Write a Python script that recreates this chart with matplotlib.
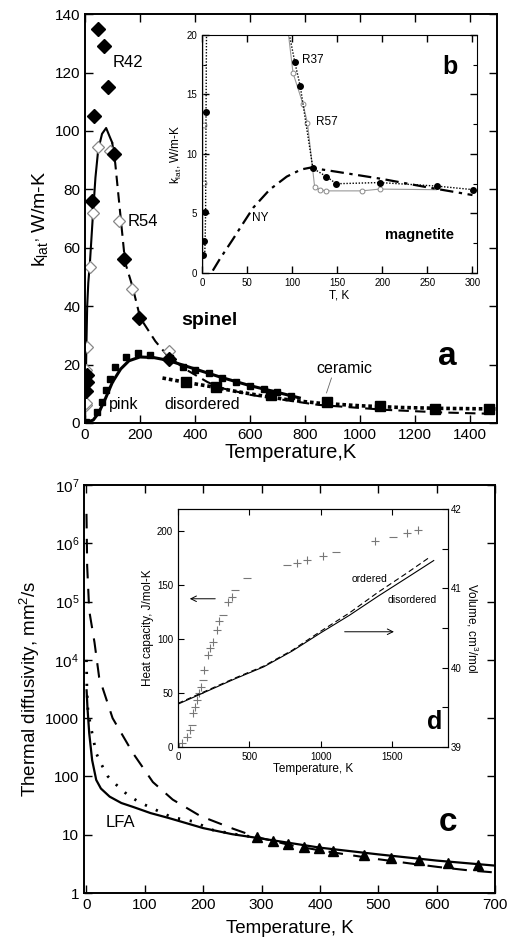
import matplotlib
matplotlib.use("Agg")
import matplotlib.pyplot as plt
import numpy as np

plt.rcParams['font.family'] = ['Liberation Sans', 'DejaVu Sans']
plt.rcParams['mathtext.fontset'] = 'custom'
plt.rcParams['mathtext.rm'] = 'Liberation Sans'
plt.rcParams['mathtext.it'] = 'Liberation Sans:italic'
plt.rcParams['mathtext.bf'] = 'Liberation Sans:bold'

# ---------------- Panel a: spinel ----------------
r42_T = [5, 7, 9, 26, 33, 48, 70, 84, 106, 143, 198, 305]
r42_k = [11, 14, 16.5, 76, 105, 135, 129, 115, 92, 56, 36, 22]
r54_T = [3, 4, 5, 5, 6, 18, 29, 48, 92, 122, 172, 305]
r54_k = [6, 7, 14, 18, 26, 53.5, 72, 94.5, 93, 69, 46, 24.5]
r54_low_T = [0, 3, 5, 8, 12, 18, 28, 38, 48, 62, 77, 90, 99]
r54_low_k = [0, 14, 26, 40, 48, 55, 70, 84, 93.5, 99, 101, 98, 96]
r54_high_T = [99, 110, 128, 146, 172, 201, 256, 304, 373, 446, 494, 604, 725, 849, 1092, 1300, 1500]
r54_high_k = [96, 89, 72, 55, 47, 36, 28, 22.6, 18, 14, 12, 9.6, 7.9, 6.2, 4.5, 3.6, 3.1]
pink_T = [0, 30, 50, 75, 100, 130, 160, 200, 250, 300, 400, 500, 600, 700, 780]
pink_k = [0, 1, 3.5, 8.5, 14, 18.5, 21.3, 22.6, 22.4, 21.5, 18.5, 15.5, 12.8, 10.5, 8.6]
pink_sq_T = [5, 44, 62, 77, 92, 110, 150, 194, 236, 308, 355, 400, 450, 500, 550, 600, 650, 700, 750]
pink_sq_k = [0.5, 3.8, 7.2, 11.3, 15, 19.2, 22.6, 24, 23.3, 22.3, 19.2, 18.3, 17, 15.5, 14.2, 12.8, 11.7, 10.5, 9.4]
disord_T = [282, 350, 450, 550, 650, 750, 850, 1000, 1150, 1300, 1500]
disord_k = [15.4, 14.2, 12.6, 10.8, 9.2, 7.8, 6.8, 5.9, 5.3, 5.0, 4.8]
disord_sq_T = [366, 476, 678]
disord_sq_k = [14, 12.3, 9.6]
ceramic_sq_T = [879, 1073, 1275, 1469]
ceramic_sq_k = [7.2, 5.8, 4.8, 4.8]

# ---------------- Inset b: magnetite ----------------
r37_T = [3, 3.5, 4, 4.5, 5, 97, 103, 109, 123, 138, 149, 197, 261, 301]
r37_k = [1.5, 2.7, 5.1, 13.5, 20, 20, 17.7, 15.7, 8.8, 8.1, 7.5, 7.6, 7.3, 7.0]
r37_pts_T = [1, 2, 3, 4.5, 103, 109, 123, 138, 149, 197, 261, 301]
r37_pts_k = [1.5, 2.7, 5.1, 13.5, 17.7, 15.7, 8.8, 8.1, 7.5, 7.6, 7.3, 7.0]
r57_T = [1, 1, 96, 101, 112, 117, 125, 131, 138, 177, 197, 260]
r57_k = [0, 20, 20, 16.8, 14.2, 12.6, 7.2, 7.0, 6.9, 6.9, 7.05, 7.0]
r57_pts_T = [2, 2, 101, 112, 117, 125, 131, 138, 177, 197]
r57_pts_k = [12.4, 7.6, 16.8, 14.2, 12.6, 7.2, 7.0, 6.9, 6.9, 7.05]
ny_T = [12, 20, 34, 45, 57, 75, 94, 110, 120, 150, 200, 250, 300]
ny_k = [0.2, 1.2, 2.8, 4.1, 5.5, 7.0, 8.1, 8.7, 8.85, 8.5, 7.9, 7.2, 6.55]

# ---------------- Panel c: thermal diffusivity ----------------
solid_T = [0.5, 2, 5, 10, 17, 25, 40, 60, 80, 110, 140, 200, 250, 300, 400, 500, 600, 700]
solid_D = [3000, 1500, 550, 190, 87, 62, 45, 35, 30, 23.5, 19.5, 13, 10.2, 8.6, 6.0, 4.6, 3.6, 2.95]
dash_T = [0.3, 1.5, 5, 14, 22, 45, 80, 114, 148, 195, 252, 292, 350, 400, 450, 500, 556, 602, 654, 700]
dash_D = [3.2e6, 4e5, 7e4, 2e4, 5000, 1000, 250, 80, 40, 21, 12.6, 9.1, 6.6, 5.4, 4.5, 3.8, 3.2, 2.8, 2.45, 2.25]
dot_T = [0.3, 1, 3, 10, 17, 26, 37, 52, 71, 91, 108, 146, 182, 217, 260, 300]
dot_D = [1e4, 3200, 1260, 550, 250, 160, 100, 71, 48, 36, 30, 20, 17, 12, 10, 8.7]
lfa_T = [292, 320, 346, 372, 398, 422, 475, 522, 570, 620, 670]
lfa_D = [9.1, 7.7, 6.9, 6.2, 5.9, 5.3, 4.5, 4.0, 3.7, 3.3, 3.0]
c_yticks = [1, 10, 100, 1000, 1e4, 1e5, 1e6, 1e7]
c_ylabels = ['1', '10', '100', '1000', '10$^4$', '10$^5$', '10$^6$', '10$^7$']

# ---------------- Inset d: heat capacity & volume ----------------
cp_plus_T = [7, 25, 60, 84, 107, 118, 130, 148, 160, 185, 210, 224, 244, 270, 288, 350, 376, 832, 902, 1014, 1378, 1601, 1678]
cp_plus_V = [0, 3.5, 9, 15.7, 31, 37, 43, 50, 55.6, 71, 85, 91.6, 97, 108, 116.6, 134, 139, 170, 173, 177, 190, 198, 201]
cp_dash_T = [95, 176, 315, 399, 483, 762, 1105, 1503]
cp_dash_V = [20, 62, 122, 145, 156, 168, 180, 194]
vol_T = [0, 200, 400, 600, 800, 1000, 1200, 1400, 1600, 1790]
vol_dis = [39.54, 39.70, 39.86, 40.01, 40.21, 40.44, 40.66, 40.90, 41.13, 41.35]
vol_ord_T = [0, 200, 400, 600, 800, 1000, 1200, 1400, 1600, 1760]
vol_ord = [39.55, 39.71, 39.87, 40.02, 40.22, 40.46, 40.69, 40.95, 41.19, 41.39]

fig = plt.figure(figsize=(5.12, 9.41), dpi=100)

def style(ax, size=11, length=6, lw=1.4):
    ax.tick_params(direction='in', top=True, right=True, labelsize=size,
                   length=length, width=1)
    ax.tick_params(which='minor', direction='in', top=True, right=True,
                   length=length * 0.6, width=0.8)
    for s in ax.spines.values():
        s.set_linewidth(lw)

# ----- Panel a -----
axa = fig.add_axes([0.166, 0.5505, 0.805, 0.4345])
axa.plot(r54_low_T, r54_low_k, '-', color='black', lw=1.5)
axa.plot(r54_high_T, r54_high_k, '--', color='black', lw=1.5, dashes=(5, 3))
axa.plot(pink_T, pink_k, '-', color='black', lw=2.2)
axa.plot(pink_sq_T, pink_sq_k, 's', color='black', ms=4.5)
axa.plot(disord_T, disord_k, color='black', lw=2.6, linestyle=(0, (1.0, 0.8)))
axa.plot(disord_sq_T, disord_sq_k, 's', color='black', ms=7)
axa.plot(ceramic_sq_T, ceramic_sq_k, 's', color='black', ms=7)
axa.plot(r54_T, r54_k, 'D', mfc='white', mec='#888888', ms=6.5, mew=0.9)
axa.plot(r42_T, r42_k, 'D', color='black', ms=7)
axa.set_xlim(0, 1500)
axa.set_ylim(0, 140)
axa.set_xticks(range(0, 1401, 200))
axa.set_yticks(range(0, 141, 20))
style(axa)
axa.set_xlabel('Temperature,K', fontsize=14.5, labelpad=1)
axa.set_ylabel("k$_{\\rm lat}$$^{,}$ W/m-K", fontsize=14, labelpad=3)
axa.text(99, 123.6, 'R42', fontsize=12, ha='left', va='center')
axa.text(154, 69, 'R54', fontsize=12, ha='left', va='center')
axa.text(454, 35, 'spinel', fontsize=14, fontweight='bold', ha='center', va='center')
axa.text(139, 6.2, 'pink', fontsize=11.5, ha='center', va='center')
axa.text(425, 6.2, 'disordered', fontsize=11.5, ha='center', va='center')
axa.text(945, 18.8, 'ceramic', fontsize=11.5, ha='center', va='center')
axa.plot([897, 879], [15.4, 10.3], color='#666666', lw=0.6)
axa.text(1319, 22.6, 'a', fontsize=24, fontweight='bold', ha='center', va='center')

# ----- Inset b -----
axb = fig.add_axes([0.3945, 0.7099, 0.5371, 0.2529])
axb.plot(r57_T, r57_k, '-', color='#999999', lw=0.8)
axb.plot(r57_pts_T, r57_pts_k, 'o', mfc='white', mec='#888888', ms=3.5, mew=0.7)
axb.plot(r37_T, r37_k, color='black', lw=1.0, linestyle=(0, (1, 1.2)))
axb.plot(r37_pts_T, r37_pts_k, 'o', color='black', ms=4)
axb.plot(ny_T, ny_k, color='black', lw=1.6, linestyle=(0, (6, 2.5, 1.5, 2.5)))
axb.set_xlim(0, 305)
axb.set_ylim(0, 20)
axb.set_xticks(range(0, 301, 50))
axb.set_yticks(range(0, 21, 5))
axb.set_yticks(np.arange(0, 20.1, 2.5), minor=True)
style(axb, size=7, length=5, lw=0.8)
axb.set_xlabel('T, K', fontsize=8.5, labelpad=1)
axb.set_ylabel("k$_{\\rm lat}$, W/m-K", fontsize=8.5, labelpad=2)
axb.text(111, 17.9, 'R37', fontsize=8.5, ha='left', va='center')
axb.text(127, 12.7, 'R57', fontsize=8.5, ha='left', va='center')
axb.text(56, 4.6, 'NY', fontsize=8.5, ha='left', va='center')
axb.text(241, 3.2, 'magnetite', fontsize=10.5, fontweight='bold', ha='center', va='center')
axb.text(275, 17.3, 'b', fontsize=18, fontweight='bold', ha='center', va='center')

# ----- Panel c -----
axc = fig.add_axes([0.164, 0.051, 0.803, 0.4336])
axc.plot(dash_T, dash_D, color='black', lw=1.5, dashes=(7, 5))
axc.plot(dot_T, dot_D, color='black', lw=2.0, linestyle=(0, (0.8, 3.5)))
axc.plot(solid_T, solid_D, '-', color='black', lw=1.6)
axc.plot(lfa_T, lfa_D, '^', color='black', ms=6.5)
axc.set_yscale('log')
axc.set_xlim(-4, 700)
axc.set_ylim(1, 1e7)
axc.set_xticks(range(0, 701, 100))
axc.set_yticks(c_yticks)
axc.set_yticklabels(c_ylabels)
axc.yaxis.set_minor_locator(matplotlib.ticker.NullLocator())
style(axc)
axc.set_xlabel('Temperature, K', fontsize=13.5, labelpad=6)
axc.set_ylabel('Thermal diffusivity, mm$^2$/s', fontsize=13.5, labelpad=2)
axc.text(58, 16, 'LFA', fontsize=12, ha='center', va='center')
axc.text(620, 16.5, 'c', fontsize=24, fontweight='bold', ha='center', va='center')

# ----- Inset d -----
axd = fig.add_axes([0.3477, 0.2062, 0.5273, 0.2529])
axv = axd.twinx()
axd.plot(cp_plus_T, cp_plus_V, '+', color='#777777', ms=6, mew=0.8)
axd.plot(cp_dash_T, cp_dash_V, '_', color='#777777', ms=6, mew=0.8)
axv.plot(vol_ord_T, vol_ord, color='black', lw=0.8, dashes=(5, 3))
axv.plot(vol_T, vol_dis, '-', color='black', lw=0.8)
axd.set_xlim(0, 1890)
axd.set_ylim(0, 220)
axv.set_ylim(39, 42)
axd.set_xticks([0, 500, 1000, 1500])
axd.set_yticks([0, 50, 100, 150, 200])
axv.set_yticks([39, 40, 41, 42])
axv.set_yticks([39.5, 40.5, 41.5], minor=True)
axd.tick_params(direction='in', top=True, labelsize=7, length=4, width=0.8)
axv.tick_params(direction='in', labelsize=7, length=4, width=0.8, pad=2)
axv.tick_params(which='minor', direction='in', length=4, width=0.8)
for s in list(axd.spines.values()) + list(axv.spines.values()):
    s.set_linewidth(0.8)
axd.set_xlabel('Temperature, K', fontsize=8.5, labelpad=1)
axd.set_ylabel('Heat capacity, J/mol-K', fontsize=8.5, labelpad=2)
axv.set_ylabel('Volume, cm$^3$/mol', fontsize=8.5, rotation=-90, labelpad=13)
axd.annotate('', xy=(63, 137), xytext=(280, 137),
             arrowprops=dict(arrowstyle='->', color='black', lw=0.7))
axd.annotate('', xy=(1531, 106.5), xytext=(1147, 106.5),
             arrowprops=dict(arrowstyle='->', color='black', lw=0.7))
axd.text(1343, 155.6, 'ordered', fontsize=7.5, ha='center', va='center')
axd.text(1643, 136, 'disordered', fontsize=7.5, ha='center', va='center')
axd.text(1797, 23, 'd', fontsize=18, fontweight='bold', ha='center', va='center')

fig.savefig('out.png', dpi=100)
